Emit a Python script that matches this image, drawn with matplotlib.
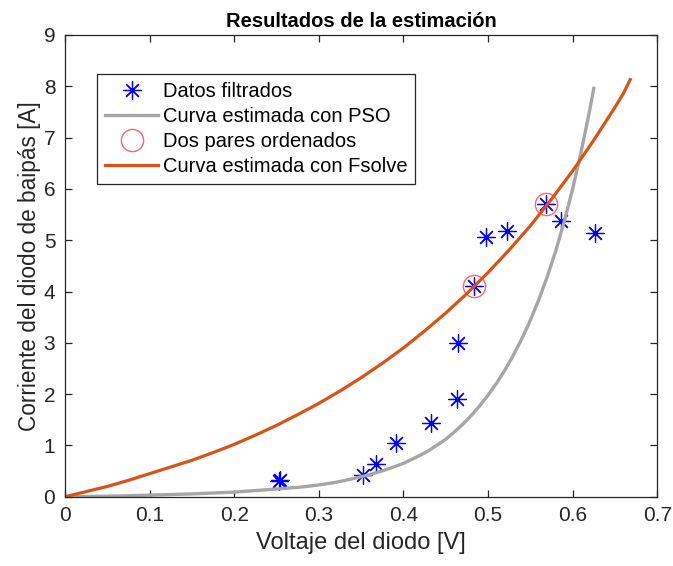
import matplotlib.pyplot as plt
from matplotlib.ticker import FixedLocator

plt.rcParams['font.family'] = ['Liberation Sans', 'DejaVu Sans']

# Measured points (filtered data)
v_datos = [0.253, 0.254, 0.352, 0.368, 0.391, 0.433, 0.463, 0.464,
           0.483, 0.498, 0.523, 0.568, 0.586, 0.626]
i_datos = [0.31, 0.33, 0.42, 0.64, 1.05, 1.44, 1.90, 2.99,
           4.10, 5.07, 5.17, 5.71, 5.37, 5.15]

# The two ordered pairs used for the Fsolve estimate
v_pares = [0.483, 0.568]
i_pares = [4.10, 5.71]

# Curve estimated with PSO
v_pso = [0.00, 0.05, 0.10, 0.15, 0.20, 0.25, 0.28, 0.30, 0.32, 0.34,
         0.36, 0.38, 0.40, 0.41, 0.42, 0.43, 0.44, 0.45, 0.46, 0.47,
         0.48, 0.49, 0.50, 0.51, 0.52, 0.53, 0.54, 0.55, 0.56, 0.57,
         0.58, 0.59, 0.60, 0.61, 0.62, 0.625]
i_pso = [0.00, 0.01, 0.03, 0.055, 0.09, 0.15, 0.19, 0.23, 0.28, 0.35,
         0.43, 0.53, 0.65, 0.73, 0.81, 0.90, 1.01, 1.12, 1.26, 1.41,
         1.58, 1.77, 1.98, 2.21, 2.47, 2.76, 3.08, 3.44, 3.84, 4.29,
         4.79, 5.36, 6.00, 6.72, 7.52, 7.96]

# Curve estimated with Fsolve
v_fsolve = [0.000, 0.025, 0.050, 0.075, 0.100, 0.125, 0.150, 0.175,
            0.200, 0.225, 0.250, 0.275, 0.300, 0.325, 0.350, 0.375,
            0.400, 0.425, 0.450, 0.475, 0.500, 0.525, 0.550, 0.575,
            0.600, 0.625, 0.650, 0.660, 0.668]
i_fsolve = [0.00, 0.10, 0.20, 0.32, 0.45, 0.58, 0.71, 0.86,
            1.02, 1.20, 1.39, 1.60, 1.82, 2.06, 2.32, 2.60,
            2.90, 3.23, 3.58, 3.96, 4.37, 4.81, 5.28, 5.80,
            6.35, 6.95, 7.59, 7.86, 8.13]

fig = plt.figure(figsize=(6.73, 5.66), dpi=100)
ax = fig.add_axes([0.0966, 0.1224, 0.88, 0.8158])

asterisk = (8, 2, 0)
ax.plot(v_datos, i_datos, linestyle='none', marker=asterisk, markersize=13,
        markeredgewidth=0.9, color='#0000ff', label='Datos filtrados')
ax.plot(v_pso, i_pso, color='#a6a6a6', linewidth=2.4,
        label='Curva estimada con PSO')
ax.plot(v_pares, i_pares, linestyle='none', marker='o', markersize=16,
        markerfacecolor='none', markeredgecolor='#ff6464', markeredgewidth=1.0,
        label='Dos pares ordenados')
ax.plot(v_fsolve, i_fsolve, color='#d95319', linewidth=2.3,
        label='Curva estimada con Fsolve')

ax.set_xlim(0, 0.7)
ax.set_ylim(0, 9)
ax.xaxis.set_major_locator(FixedLocator([0, 0.1, 0.2, 0.3, 0.4, 0.5, 0.6, 0.7]))
ax.set_xticklabels(['0', '0.1', '0.2', '0.3', '0.4', '0.5', '0.6', '0.7'])
ax.yaxis.set_major_locator(FixedLocator(range(10)))

axis_col = '#262626'
for s in ax.spines.values():
    s.set_color(axis_col)
    s.set_linewidth(0.9)
ax.tick_params(direction='in', length=5, width=0.9, colors=axis_col,
               labelsize=15, top=True, right=True, pad=7)

ax.set_xlabel('Voltaje del diodo [V]', fontsize=17, color=axis_col, labelpad=5)
ax.set_ylabel('Corriente del diodo de baipás [A]', fontsize=16.3,
              color=axis_col, labelpad=2)
ax.set_title('Resultados de la estimación', fontsize=14.5, fontweight='bold',
             color='black', pad=6)

leg = ax.legend(loc='upper left', bbox_to_anchor=(0.0545, 0.9155),
                borderaxespad=0, fontsize=14.5, handlelength=2.6,
                handletextpad=0.25, labelspacing=0.3, borderpad=0.4,
                fancybox=False, framealpha=1, edgecolor=axis_col)
leg.get_frame().set_linewidth(0.9)

fig.savefig('out.png', dpi=100)
